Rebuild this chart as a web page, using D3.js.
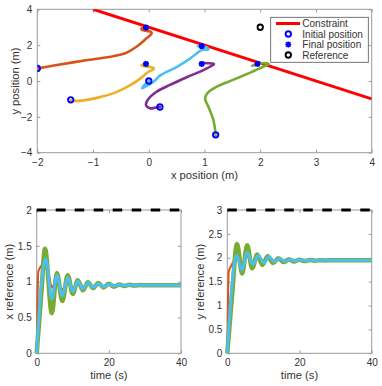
<!DOCTYPE html>
<html><head><meta charset="utf-8">
<script src="https://cdn.jsdelivr.net/npm/d3@7"></script>
<style>
body{margin:0;background:#fff;}
svg{display:block;font-family:"Liberation Sans",Arial,Helvetica,sans-serif;}
</style></head>
<body><svg id="c" width="382" height="386"></svg>
<script>
// ---------- DATA ----------
const constraintX = [-1, 4];
const constraintY = [4, -1];
const referencePoint = [2, 3];

// trajectories (x position, y position)
const orangeX = [-2.0, -1.7, -1.1, -0.64, -0.42, -0.22, -0.04, 0.05, 0.04, -0.05, -0.13, -0.12, -0.05];
const orangeY = [0.7, 0.86, 1.17, 1.38, 1.55, 1.91, 2.38, 2.64, 2.74, 2.8, 2.86, 2.95, 2.98];
const yellowX = [-1.4, -1.35, -1.17, -0.88, -0.58, -0.34, -0.16, -0.01, 0.08, 0.09, 0.03, -0.06, -0.13, -0.1, -0.05];
const yellowY = [-1.05, -1.1, -1.08, -0.9, -0.62, -0.25, 0.12, 0.5, 0.65, 0.72, 0.78, 0.82, 0.87, 0.93, 0.95];
const purpleX = [0.2, 0.1, 0.02, -0.05, -0.01, 0.14, 0.38, 0.68, 0.98, 1.15, 1.17, 1.07, 0.92, 0.95];
const purpleY = [-1.45, -1.5, -1.52, -1.34, -1.02, -0.6, -0.22, 0.21, 0.61, 0.89, 0.95, 0.99, 0.99, 0.95];
const greenX = [1.2, 1.16, 1.07, 1.01, 1.05, 1.22, 1.51, 1.82, 2.06, 2.15, 2.08, 1.95, 1.85, 1.9, 1.95];
const greenY = [-3.0, -2.18, -1.44, -0.97, -0.69, -0.32, 0.06, 0.47, 0.8, 0.95, 1.0, 0.93, 0.85, 0.9, 0.95];
const cyanX = [0, -0.07, -0.12, -0.1, 0.08, 0.2, 0.5, 0.74, 0.95, 1.07, 1.05, 0.98, 0.88, 0.92, 0.95];
const cyanY = [0, -0.2, -0.4, -0.38, -0.06, 0.3, 0.78, 1.25, 1.73, 1.76, 1.86, 1.9, 1.93, 1.96, 1.95];

const initialX = [-2, -1.4, 0, 0.2, 1.2];
const initialY = [0.7, -1.05, 0, -1.45, -3];
const finalX = [-0.05, -0.05, 0.95, 0.95, 1.95];
const finalY = [2.98, 0.95, 1.95, 0.95, 0.95];

// x reference vs time
const xrefOrangeT = [0, 0.45, 1.0, 1.8, 2.4, 3.2, 4.2, 5.6, 7.1, 8.6, 10, 11.4, 12.8, 14.2, 15.6, 17, 18.5, 20, 22, 25, 28, 40];
const xrefOrangeV = [0, 1.14, 1.2, 1.26, 1.29, 1.15, 0.92, 1.04, 0.89, 1.01, 0.9, 0.985, 0.92, 0.97, 0.93, 0.965, 0.94, 0.955, 0.945, 0.952, 0.95, 0.95];
const xrefGreenT = [0, 1.3, 2.3, 4.2, 5.6, 7.1, 8.6, 10.0, 11.4, 12.8, 14.2, 15.6, 17.1, 18.5, 20, 21.4, 22.9, 24.3, 25.7, 27.2, 28.6, 30, 40];
const xrefGreenV = [0, 0.85, 1.46, 0.56, 1.12, 0.73, 1.09, 0.83, 1.02, 0.88, 0.99, 0.91, 0.98, 0.92, 0.97, 0.93, 0.96, 0.94, 0.955, 0.945, 0.952, 0.95, 0.95];
const xrefCyanT = [0, 1.4, 2.5, 4.2, 5.6, 7.1, 8.6, 10.0, 11.4, 12.8, 14.2, 15.6, 17.1, 18.5, 20, 21.4, 22.9, 24.3, 25.7, 27.2, 28.6, 30, 40];
const xrefCyanV = [0, 1.02, 1.32, 0.76, 1.09, 0.8, 1.06, 0.86, 1.01, 0.9, 0.985, 0.92, 0.975, 0.93, 0.965, 0.94, 0.96, 0.945, 0.955, 0.948, 0.952, 0.95, 0.95];

// y reference vs time
const yrefOrangeT = [0, 0.4, 1.0, 1.8, 2.6, 3.5, 4.2, 5.5, 7, 8.5, 10, 11.5, 13, 14.5, 16, 18, 20, 23, 26, 40];
const yrefOrangeV = [0, 1.71, 1.82, 1.93, 1.99, 1.95, 1.9, 2.02, 1.9, 2.0, 1.92, 1.98, 1.93, 1.97, 1.94, 1.96, 1.945, 1.952, 1.95, 1.95];
const yrefGreenT = [0, 1.3, 2.7, 4.1, 5.5, 6.9, 8.3, 9.7, 11.2, 12.7, 14.2, 15.6, 17.1, 18.5, 20, 21.4, 22.9, 24.3, 25.7, 27.2, 28.6, 30, 40];
const yrefGreenV = [0, 1.2, 2.29, 1.67, 2.26, 1.78, 2.07, 1.85, 2.03, 1.89, 1.99, 1.91, 1.97, 1.92, 1.96, 1.93, 1.955, 1.94, 1.95, 1.945, 1.95, 1.95, 1.95];
const yrefCyanT = [0, 1.5, 2.6, 4.0, 5.5, 7.1, 8.6, 10.1, 11.6, 13, 14.5, 16, 17.4, 18.9, 20.3, 21.8, 23.3, 24.8, 26.2, 27.7, 29.2, 31, 40];
const yrefCyanV = [0, 1.6, 2.06, 1.74, 2.11, 1.86, 2.05, 1.89, 2.02, 1.92, 1.985, 1.93, 1.97, 1.935, 1.96, 1.94, 1.955, 1.945, 1.952, 1.947, 1.95, 1.95, 1.95];

const xRefTarget = 2, yRefTarget = 3;

const topXTicks = [-2, -1, 0, 1, 2, 3, 4];
const topYTicks = [-4, -2, 0, 2, 4];
const timeTicks = [0, 20, 40];
const xrefTicks = [0, 0.5, 1, 1.5, 2];
const yrefTicks = [0, 0.5, 1, 1.5, 2, 2.5, 3];

const COL = {orange:"#D95319", yellow:"#EDB120", purple:"#7E2F8E", green:"#77AC30", cyan:"#4DBEEE", red:"#FF0000", blue:"#0000FF"};

// ---------- DRAW ----------
const svg = d3.select("#c");
const AXC = "#9a9a9a", TXC = "#333";

function frame(g, x, y, xt, yt, xfmt, yfmt, xlab, ylab, ylabX) {
  const [x0, x1] = x.range(), [y0, y1] = y.range();
  const tl = 3;
  g.append("rect").attr("x", x0).attr("y", y1).attr("width", x1 - x0).attr("height", y0 - y1)
    .attr("fill", "none").attr("stroke", AXC).attr("stroke-width", 1);
  const mk = (ax, tr) => { const a = g.append("g").attr("transform", tr).call(ax); a.select(".domain").remove(); return a; };
  const bx = mk(d3.axisBottom(x).tickValues(xt).tickSizeInner(-tl).tickSizeOuter(0).tickPadding(6).tickFormat(xfmt), `translate(0,${y0})`);
  const tx = mk(d3.axisTop(x).tickValues(xt).tickSizeInner(-tl).tickSizeOuter(0).tickFormat(""), `translate(0,${y1})`);
  const ly = mk(d3.axisLeft(y).tickValues(yt).tickSizeInner(-tl).tickSizeOuter(0).tickPadding(5).tickFormat(yfmt), `translate(${x0},0)`);
  const ry = mk(d3.axisRight(y).tickValues(yt).tickSizeInner(-tl).tickSizeOuter(0).tickFormat(""), `translate(${x1},0)`);
  [bx, tx, ly, ry].forEach(a => { a.selectAll("line").attr("stroke", AXC); a.selectAll("text").attr("fill", TXC).style("font-size", "10px"); });
  g.append("text").attr("x", (x0 + x1) / 2).attr("y", y0 + 26).attr("text-anchor", "middle")
    .attr("fill", TXC).style("font-size", "11.2px").text(xlab);
  g.append("text").attr("transform", `translate(${ylabX},${(y0 + y1) / 2}) rotate(-90)`).attr("text-anchor", "middle")
    .attr("fill", TXC).style("font-size", "11.2px").text(ylab);
}

// ---- top plot ----
const gT = svg.append("g");
const xT = d3.scaleLinear().domain([-2, 4]).range([37.3, 371.7]);
const yT = d3.scaleLinear().domain([-4, 4]).range([152.7, 9.3]);
const clipT = svg.append("clipPath").attr("id", "clipT").append("rect")
  .attr("x", 37.3).attr("y", 9.3).attr("width", 334.4).attr("height", 143.4);
frame(gT, xT, yT, topXTicks, topYTicks, d3.format("d"), d3.format("d"), "x position (m)", "y position (m)", 18.5);

const lineT = d3.line().x(d => xT(d[0])).y(d => yT(d[1])).curve(d3.curveCatmullRom.alpha(0.5));
const pl = gT.append("g").attr("clip-path", "url(#clipT)");
pl.append("path").attr("d", d3.line()(constraintX.map((v, i) => [xT(v), yT(constraintY[i])])))
  .attr("stroke", COL.red).attr("stroke-width", 3).attr("fill", "none");
const trajs = [[orangeX, orangeY, COL.orange], [yellowX, yellowY, COL.yellow], [purpleX, purpleY, COL.purple],
               [greenX, greenY, COL.green], [cyanX, cyanY, COL.cyan]];
trajs.forEach(([xs, ys, c]) => {
  pl.append("path").attr("d", lineT(xs.map((v, i) => [v, ys[i]])))
    .attr("stroke", c).attr("stroke-width", 2.6).attr("fill", "none").attr("stroke-linejoin", "round").attr("stroke-linecap", "round");
});
function circ(g, cx, cy, col) {
  g.append("circle").attr("cx", cx).attr("cy", cy).attr("r", 2.7).attr("fill", "none").attr("stroke", col).attr("stroke-width", 1.9);
}
function star(g, cx, cy, col) {
  const s = 3;
  const d = `M${cx - s},${cy}L${cx + s},${cy}M${cx},${cy - s}L${cx},${cy + s}M${cx - s * .75},${cy - s * .75}L${cx + s * .75},${cy + s * .75}M${cx - s * .75},${cy + s * .75}L${cx + s * .75},${cy - s * .75}`;
  g.append("path").attr("d", d).attr("stroke", col).attr("stroke-width", 1.7).attr("fill", "none");
}
initialX.forEach((v, i) => circ(pl, xT(v), yT(initialY[i]), COL.blue));
finalX.forEach((v, i) => star(pl, xT(v), yT(finalY[i]), COL.blue));
circ(pl, xT(referencePoint[0]), yT(referencePoint[1]), "#000");

// legend
const lg = gT.append("g");
lg.append("rect").attr("x", 270.7).attr("y", 17.3).attr("width", 97.6).attr("height", 45)
  .attr("fill", "#fff").attr("stroke", "#555").attr("stroke-width", 0.8);
const rows = [23.5, 34, 44.5, 55];
lg.append("line").attr("x1", 276).attr("x2", 300).attr("y1", rows[0]).attr("y2", rows[0]).attr("stroke", COL.red).attr("stroke-width", 3);
circ(lg, 288.3, rows[1], COL.blue);
star(lg, 288.3, rows[2], COL.blue);
circ(lg, 288.3, rows[3], "#000");
["Constraint", "Initial position", "Final position", "Reference"].forEach((t, i) => {
  lg.append("text").attr("x", 302.3).attr("y", rows[i] + 3.5).attr("fill", TXC).style("font-size", "10px").text(t);
});

// ---- bottom plots ----
function timePlot(left, right, ymax, ticks, series, target, ylab) {
  const g = svg.append("g");
  const x = d3.scaleLinear().domain([0, 40]).range([left, right]);
  const y = d3.scaleLinear().domain([0, ymax]).range([353.3, 210]);
  frame(g, x, y, timeTicks, ticks, d3.format("d"), d3.format("~g"), "time (s)", ylab, left - 23.3);
  const ln = d3.line().x(d => x(d[0])).y(d => y(d[1])).curve(d3.curveMonotoneX);
  series.forEach(([ts, vs, c, w]) => {
    g.append("path").attr("d", ln(ts.map((t, i) => [t, vs[i]]))).attr("stroke", c).attr("stroke-width", w)
      .attr("fill", "none").attr("stroke-linejoin", "round");
  });
  g.append("path").attr("d", ln([[0, target], [40, target]])).attr("stroke", "#000").attr("stroke-width", 3)
    .attr("stroke-dasharray", "9.5,9.5").attr("fill", "none");
}
timePlot(36.7, 181, 2, xrefTicks,
  [[xrefOrangeT, xrefOrangeV, COL.orange, 2], [xrefGreenT, xrefGreenV, COL.green, 4.5], [xrefCyanT, xrefCyanV, COL.cyan, 3]],
  xRefTarget, "x reference (m)");
timePlot(227.3, 371.7, 3, yrefTicks,
  [[yrefOrangeT, yrefOrangeV, COL.orange, 2], [yrefGreenT, yrefGreenV, COL.green, 4.5], [yrefCyanT, yrefCyanV, COL.cyan, 3]],
  yRefTarget, "y reference (m)");
</script></body></html>
